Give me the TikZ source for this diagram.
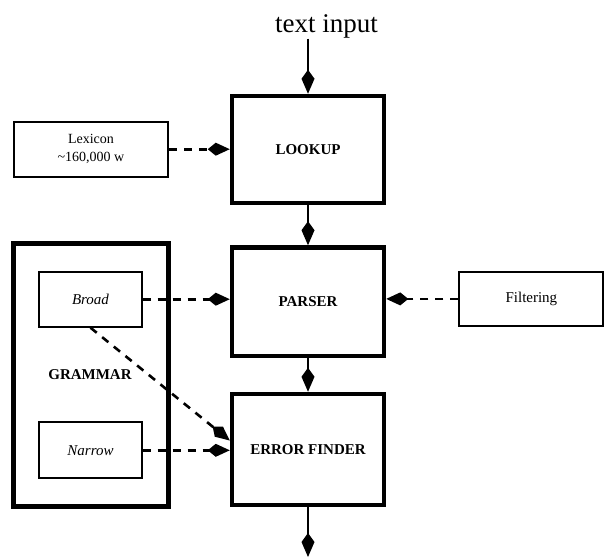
\documentclass[tikz,border=0pt]{standalone}
\usepackage{fontspec}
\setmainfont{Liberation Serif}
\usetikzlibrary{arrows.meta}
\begin{document}
\begin{tikzpicture}[x=1pt,y=-1pt,
  mainbox/.style={draw, line width=4.5pt, minimum width=152pt, inner sep=0pt,
    font=\fontsize{15}{18}\selectfont\bfseries},
  sidebox/.style={draw, line width=2pt, inner sep=0pt,
    font=\fontsize{15}{18}\selectfont},
  flow/.style={line width=2pt, -{Kite[length=24pt,width=13pt,inset=9pt]}},
  feed/.style={line width=2.6pt, dash pattern=on 8pt off 7pt,
    -{Kite[length=22pt,width=13pt,inset=8pt]}},
]
\useasboundingbox (0,0) rectangle (605,557);

% main pipeline
\node[font=\fontsize{27}{32}\selectfont, inner sep=0.5pt, anchor=base] (title) at (326.5,32.3) {text input};
\node[mainbox, minimum height=107pt] (lookup) at (308,149.5) {LOOKUP};
\node[mainbox, minimum height=108.5pt] (parser) at (308,301.75) {PARSER};
\node[mainbox, minimum height=111pt] (error) at (308,449.5) {ERROR FINDER};
\coordinate (out) at (308,557);

% resources
\node[sidebox, minimum width=154pt, minimum height=55pt, align=center,
  font=\fontsize{14}{18.3}\selectfont] (lexicon) at (91,149.2) {Lexicon\\\textasciitilde160,000 w};
\node[sidebox, minimum width=144pt, minimum height=54.5pt] (filter) at (531.4,298.9) {Filtering};

% grammar block
\node[draw, line width=4.5pt, minimum width=155pt, minimum height=263.4pt, inner sep=0pt] (grammar) at (90.8,375) {};
\node[font=\fontsize{15}{18}\selectfont\bfseries] (glabel) at (90,375) {GRAMMAR};
\node[sidebox, minimum width=102.4pt, minimum height=55pt, font=\fontsize{15}{18}\selectfont\itshape] (broad) at (90.5,299.2) {Broad};
\node[sidebox, minimum width=102.4pt, minimum height=56pt, font=\fontsize{15}{18}\selectfont\itshape] (narrow) at (90.5,450.3) {Narrow};

% solid flow
\draw[flow] (title.south -| lookup.north) -- (lookup.north);
\draw[flow] (lookup) -- (parser);
\draw[flow] (parser) -- (error);
\draw[flow] (error) -- (out);

% dashed feeds
\draw[feed] (lexicon.east) -- (lookup.west |- lexicon.east);
\draw[feed] (broad.east) -- (parser.west |- broad.east);
\draw[feed] (filter.west) -- (parser.east |- filter.west);
\draw[feed, line width=3.4pt] (narrow.east) -- (error.west |- narrow.east);
\draw[feed] (broad.south) -- ([yshift=9pt]error.west);
\end{tikzpicture}
\end{document}
